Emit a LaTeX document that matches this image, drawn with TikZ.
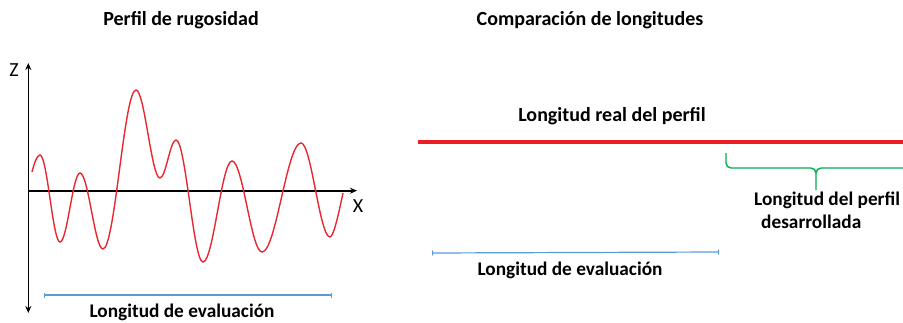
\documentclass[tikz,border=0pt]{standalone}
\usepackage{fontspec}
\setmainfont{Carlito}
\usetikzlibrary{arrows.meta}
\definecolor{curvered}{RGB}{232,40,48}
\definecolor{linered}{RGB}{235,28,36}
\definecolor{evalblue}{RGB}{91,155,213}
\definecolor{bracegreen}{RGB}{0,176,80}
\tikzset{
  lbl/.style={font=\bfseries\fontsize{20}{24}\selectfont, inner sep=0pt},
  smalllbl/.style={font=\bfseries\fontsize{19.3}{23}\selectfont, inner sep=0pt},
  axis/.style={line width=1.6pt, -{Stealth[length=7pt,width=6pt]}},
  evalline/.style={evalblue, line width=1.2pt, {Bar[width=5pt]}-{Bar[width=5pt]}},
}
\begin{document}
\begin{tikzpicture}[x=1pt,y=1pt]
\useasboundingbox (0,0) rectangle (903,322);
% titles
\node[lbl] (t1) at (181,302) {Perfil de rugosidad};
\node[lbl] (t2) at (590,302) {Comparación de longitudes};
% axes
\coordinate (ybot) at (28.3,9);
\coordinate (ytop) at (28.3,259);
\coordinate (xo) at (28.3,131.3);
\coordinate (xend) at (357,131.3);
\draw[line width=1.6pt, {Stealth[length=7pt,width=6pt]}-{Stealth[length=7pt,width=6pt]}] (ybot) -- (ytop);
\draw[axis] (xo) -- (xend);
\node[lbl, font=\fontsize{20}{24}\selectfont] (zl) at (14,252) {Z};
\node[lbl, font=\fontsize{20}{24}\selectfont] (xl) at (358,116) {X};
% profile
\draw[curvered, line width=1.4pt]
  (32,150) .. controls (34,158) and (37,167) .. (40,167)
  .. controls (47.2,167) and (52.8,80) .. (60,80)
  .. controls (67.2,80) and (72.8,149) .. (80,149)
  .. controls (88.3,149) and (94.7,73) .. (103,73)
  .. controls (114.9,73) and (124.1,232) .. (136,232)
  .. controls (144.6,232) and (151.4,144) .. (160,144)
  .. controls (165.8,144) and (170.2,182) .. (176,182)
  .. controls (185.7,182) and (193.3,60) .. (203,60)
  .. controls (213.4,60) and (221.6,161) .. (232,161)
  .. controls (242.8,161) and (251.2,70) .. (262,70)
  .. controls (276,70) and (287,179) .. (301,179)
  .. controls (311.4,179) and (319.6,85) .. (330,85)
  .. controls (334,85) and (340,115) .. (343,129);
% evaluation length left
\coordinate (e1a) at (44,27);
\coordinate (e1b) at (332,27);
\draw[evalline] (e1a) -- (e1b);
\node[smalllbl] (l1) at (182,10) {Longitud de evaluación};
% right panel
\node[lbl] (real) at (612,206) {Longitud real del perfil};
\coordinate (ra) at (418,180);
\coordinate (rb) at (903,180);
\draw[linered, line width=4pt] (ra) -- (rb);
% brace
\coordinate (ba) at (726,169);
\coordinate (btip) at (816,132);
\coordinate (bend) at (903,154);
\draw[bracegreen, line width=1.4pt] (ba) -- (726,159) to[out=-90,in=180] (731,154) -- (811,154) to[out=0,in=90] (816,149) -- (btip);
\draw[bracegreen, line width=1.4pt] (816,149) to[out=90,in=180] (821,154) -- (bend);
\node[smalllbl, anchor=west] (d1) at (754,122) {Longitud del perfil};
\node[smalllbl, anchor=west] (d2) at (761,100) {desarrollada};
% evaluation length right
\coordinate (e2a) at (432,69);
\coordinate (e2b) at (719,70);
\draw[evalline] (e2a) -- (e2b);
\node[smalllbl] (l2) at (570,52) {Longitud de evaluación};
\end{tikzpicture}
\end{document}
